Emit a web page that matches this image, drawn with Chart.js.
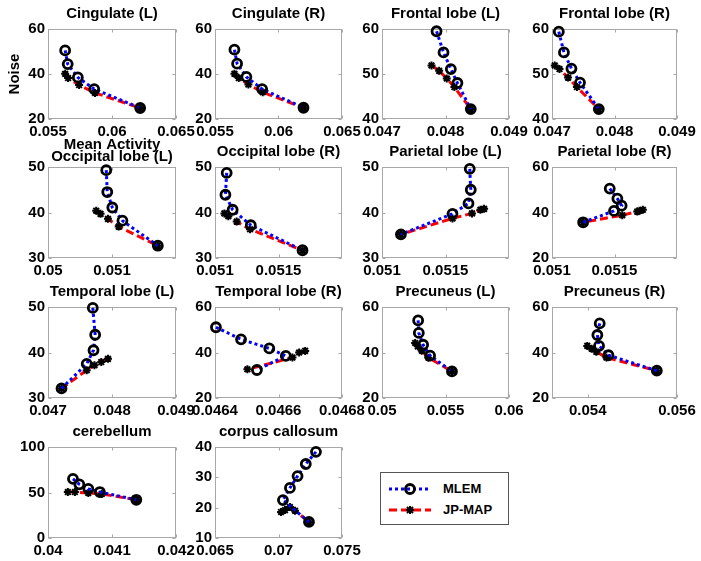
<!DOCTYPE html>
<html>
<head>
<meta charset="utf-8">
<script src="https://cdn.jsdelivr.net/npm/chart.js@4.4.1/dist/chart.umd.min.js"></script>
<style>
  body { margin: 0; width: 701px; height: 561px; position: relative; overflow: hidden; background: #fff; font-family: "Liberation Sans", Arial, sans-serif; }
  canvas { position: absolute; }
  #legend { position: absolute; left: 380px; top: 472px; width: 129px; height: 53px; border: 1px solid #555; background: #fff; box-sizing: border-box; padding-top: 5px; }
  #legend .row { display: flex; align-items: center; height: 21px; }
  #legend svg { margin-left: 6px; margin-right: 10px; }
  #legend span { font-weight: bold; font-size: 13px; color: #000; }
</style>
</head>
<body>
<div id="legend">
  <div class="row">
    <svg width="46" height="14"><line x1="2" y1="7" x2="44" y2="7" stroke="#0000ff" stroke-width="3" stroke-dasharray="3 3"/><circle cx="23" cy="7" r="4.5" fill="none" stroke="#000" stroke-width="2.8"/></svg>
    <span>MLEM</span>
  </div>
  <div class="row">
    <svg width="46" height="14"><line x1="2" y1="7" x2="44" y2="7" stroke="#ff0000" stroke-width="3" stroke-dasharray="8 4"/><path d="M19 7h8M23 3v8M20 4l6 6M26 4l-6 6" stroke="#000" stroke-width="2"/></svg>
    <span>JP-MAP</span>
  </div>
</div>
<script>
const titles = ['Cingulate (L)', 'Cingulate (R)', 'Frontal lobe (L)', 'Frontal lobe (R)',
  'Occipital lobe (L)', 'Occipital lobe (R)', 'Parietal lobe (L)', 'Parietal lobe (R)',
  'Temporal lobe (L)', 'Temporal lobe (R)', 'Precuneus (L)', 'Precuneus (R)',
  'cerebellum', 'corpus callosum'];

// MLEM curve (mean activity, noise) per region
const mlemX = [
  [0.05634, 0.05654, 0.05733, 0.05861, 0.0622],
  [0.05653, 0.05674, 0.05747, 0.05871, 0.06197],
  [0.047859, 0.047969, 0.048084, 0.048188, 0.048398],
  [0.047109, 0.047191, 0.047311, 0.047448, 0.047749],
  [0.05091, 0.050926, 0.051005, 0.051163, 0.051716],
  [0.051092, 0.051082, 0.051139, 0.051282, 0.051689],
  [0.051691, 0.051699, 0.051681, 0.051555, 0.051149],
  [0.051462, 0.051523, 0.051557, 0.051496, 0.051249],
  [0.0477, 0.047737, 0.047711, 0.047605, 0.047211],
  [0.046403, 0.046482, 0.046571, 0.046623, 0.046532],
  [0.052846, 0.052898, 0.053238, 0.053786, 0.055509],
  [0.054269, 0.054216, 0.054254, 0.054465, 0.055548],
  [0.04039, 0.04049, 0.04063, 0.04081, 0.04138],
  [0.07295, 0.07215, 0.07150, 0.07090, 0.07035, 0.0724]
];
const mlemY = [
  [50.5, 44.4, 38.5, 33.3, 24.9],
  [50.8, 44.6, 38.7, 33.3, 25.0],
  [59.5, 54.8, 51.1, 48.0, 42.2],
  [59.4, 54.8, 51.2, 48.1, 42.2],
  [49.3, 44.5, 41.1, 38.2, 32.7],
  [48.7, 43.9, 40.6, 37.2, 31.7],
  [49.6, 45.0, 42.0, 39.7, 35.2],
  [50.5, 46.1, 43.0, 40.7, 35.7],
  [49.8, 43.9, 40.5, 37.5, 32.1],
  [51.1, 45.8, 41.8, 38.5, 32.3],
  [54.1, 48.6, 43.4, 38.6, 31.7],
  [52.8, 47.7, 42.9, 38.8, 32.0],
  [65, 59, 54, 50.5, 42],
  [38.4, 34.4, 30.4, 26.5, 22.5, 15.3]
];
// JP-MAP curve
const jpX = [
  [0.05634, 0.05657, 0.05743, 0.05867, 0.0622],
  [0.05653, 0.05687, 0.05763, 0.05876, 0.06197],
  [0.04778, 0.0479, 0.04802, 0.04814, 0.048398],
  [0.047044, 0.04712, 0.047257, 0.047399, 0.047749],
  [0.050753, 0.050821, 0.050937, 0.051105, 0.051716],
  [0.051074, 0.051105, 0.051171, 0.051276, 0.051689],
  [0.051804, 0.051775, 0.051709, 0.051555, 0.051149],
  [0.051727, 0.0517, 0.051682, 0.051562, 0.051249],
  [0.047937, 0.047832, 0.047726, 0.047605, 0.047211],
  [0.046684, 0.046665, 0.046644, 0.046502],
  [0.052611, 0.05282, 0.053133, 0.053655, 0.055509],
  [0.05399, 0.054088, 0.054194, 0.054419, 0.055548],
  [0.04031, 0.04042, 0.04063, 0.04084, 0.04138],
  [0.0702, 0.07051, 0.0709, 0.0713, 0.0724]
];
const jpY = [
  [40.1, 38.2, 35.1, 31.6, 24.9],
  [40.1, 38.2, 35.3, 31.9, 25.0],
  [51.9, 50.7, 49.0, 47.1, 42.2],
  [51.9, 51.1, 49.2, 47.1, 42.2],
  [40.4, 39.7, 38.6, 36.9, 32.7],
  [39.8, 39.2, 38.0, 36.3, 31.7],
  [40.8, 40.6, 39.8, 38.7, 35.2],
  [41.2, 40.8, 40.4, 38.8, 35.7],
  [38.6, 37.9, 37.2, 36.1, 32.1],
  [40.7, 40.0, 37.8, 32.6],
  [44.2, 42.7, 40.8, 37.7, 31.7],
  [42.9, 41.7, 40.3, 37.8, 32.0],
  [50.5, 50.5, 49.5, 48.4, 42],
  [18.6, 19.2, 20.2, 19.0, 15.3]
];
// axis ranges and tick labels
const xMin = [0.055, 0.055, 0.047, 0.047, 0.05, 0.051, 0.051, 0.051, 0.047, 0.0464, 0.05, 0.0532, 0.04, 0.065];
const xMax = [0.065, 0.065, 0.049, 0.049, 0.052, 0.052, 0.052, 0.052, 0.049, 0.0468, 0.06, 0.056, 0.042, 0.075];
const xTicks = [
  [0.055, 0.06, 0.065], [0.055, 0.06, 0.065], [0.047, 0.048, 0.049], [0.047, 0.048, 0.049],
  [0.05, 0.051], [0.051, 0.0515], [0.051, 0.0515], [0.051, 0.0515],
  [0.047, 0.048, 0.049], [0.0464, 0.0466, 0.0468], [0.05, 0.055, 0.06], [0.054, 0.056],
  [0.04, 0.041, 0.042], [0.065, 0.07, 0.075]
];
const yMin = [20, 20, 40, 40, 30, 30, 30, 20, 30, 20, 20, 20, 0, 10];
const yMax = [60, 60, 60, 60, 50, 50, 50, 60, 50, 60, 60, 60, 100, 40];
const yTicks = [
  [20, 40, 60], [20, 40, 60], [40, 50, 60], [40, 50, 60],
  [30, 40, 50], [30, 40, 50], [30, 40, 50], [20, 40, 60],
  [30, 40, 50], [20, 40, 60], [20, 40, 60], [20, 40, 60],
  [0, 50, 100], [10, 20, 30, 40]
];

const FONT = '"Liberation Sans", Arial, Helvetica, sans-serif';
const colL = [48, 215, 382, 552], colW = [128, 127, 127, 125];
const rowT = [29, 167, 307, 447], rowH = [90, 91, 91, 91];
const ML = 50, MR = 30, MT = 32, MB = 40;

// MATLAB-like box with small inward tick marks
const boxPlugin = {
  id: 'box',
  beforeDatasetsDraw(c) {
    const a = c.chartArea, g = c.ctx;
    const L = Math.round(a.left) + 0.5, T = Math.round(a.top) + 0.5;
    const R = Math.round(a.right) - 0.5, B = Math.round(a.bottom) - 0.5;
    g.save();
    g.strokeStyle = '#a8a8a8';
    g.lineWidth = 1;
    g.strokeRect(L, T, R - L, B - T);
    g.beginPath();
    c.scales.x.ticks.forEach(t => {
      const px = Math.round(c.scales.x.getPixelForValue(t.value)) + 0.5;
      g.moveTo(px, B); g.lineTo(px, B - 3);
      g.moveTo(px, T); g.lineTo(px, T + 3);
    });
    c.scales.y.ticks.forEach(t => {
      const py = Math.round(c.scales.y.getPixelForValue(t.value)) + 0.5;
      g.moveTo(L, py); g.lineTo(L + 3, py);
      g.moveTo(R, py); g.lineTo(R - 3, py);
    });
    g.stroke();
    g.restore();
  }
};

const pts = (xs, ys) => xs.map((x, k) => ({ x, y: ys[k] }));
const tickFont = { family: FONT, size: 15, weight: 'bold' };

titles.forEach((t, i) => {
  const col = i % 4, row = Math.floor(i / 4);
  const w = colW[col], h = rowH[row];
  const cv = document.createElement('canvas');
  cv.width = ML + w + MR;
  cv.height = MT + h + MB;
  cv.style.left = (colL[col] - ML) + 'px';
  cv.style.top = (rowT[row] - MT) + 'px';
  document.body.appendChild(cv);
  const tTop = i === 4 ? 13 : 8;

  new Chart(cv, {
    type: 'scatter',
    data: {
      datasets: [
        {
          label: 'MLEM', data: pts(mlemX[i], mlemY[i]), showLine: true,
          borderColor: '#0000ff', borderWidth: 3, borderDash: [3, 3],
          pointStyle: 'circle', pointRadius: 4.5, pointBorderWidth: 2.8,
          pointBorderColor: '#000', pointBackgroundColor: 'rgba(0,0,0,0)', clip: false
        },
        {
          label: 'JP-MAP', data: pts(jpX[i], jpY[i]), showLine: true,
          borderColor: '#ff0000', borderWidth: 3, borderDash: [8, 4],
          pointStyle: 'star', pointRadius: 4, pointBorderWidth: 2,
          pointBorderColor: '#000', pointBackgroundColor: '#000', clip: false
        }
      ]
    },
    options: {
      responsive: false, animation: false, events: [],
      layout: { padding: { left: 0, right: MR, top: 0, bottom: 0 } },
      plugins: {
        legend: { display: false },
        tooltip: { enabled: false },
        title: {
          display: true, text: t, fullSize: false, color: '#000',
          font: { family: FONT, size: 15, weight: 'bold', lineHeight: 1.2 },
          padding: { top: tTop, bottom: MT - 18 - tTop }
        }
      },
      scales: {
        x: {
          type: 'linear', min: xMin[i], max: xMax[i],
          afterFit: s => { s.height = MB; },
          afterBuildTicks: s => { s.ticks = xTicks[i].map(v => ({ value: v })); },
          ticks: { callback: v => String(v), autoSkip: false, maxRotation: 0, padding: 4, color: '#000', font: tickFont },
          grid: { display: false, drawTicks: false },
          border: { display: false },
          title: i === 0
            ? { display: true, text: 'Mean Activity', color: '#000', font: { family: FONT, size: 15, weight: 'bold' }, padding: { top: 0, bottom: 5 } }
            : { display: false }
        },
        y: {
          type: 'linear', min: yMin[i], max: yMax[i],
          afterFit: s => { s.width = ML; },
          afterBuildTicks: s => { s.ticks = yTicks[i].map(v => ({ value: v })); },
          ticks: { callback: v => String(v), autoSkip: false, padding: 3, color: '#000', font: tickFont },
          grid: { display: false, drawTicks: false },
          border: { display: false },
          title: i === 0
            ? { display: true, text: 'Noise', color: '#000', font: { family: FONT, size: 15, weight: 'bold' }, padding: { top: 8, bottom: 0 } }
            : { display: false }
        }
      }
    },
    plugins: [boxPlugin]
  });
});
</script>
</body>
</html>
